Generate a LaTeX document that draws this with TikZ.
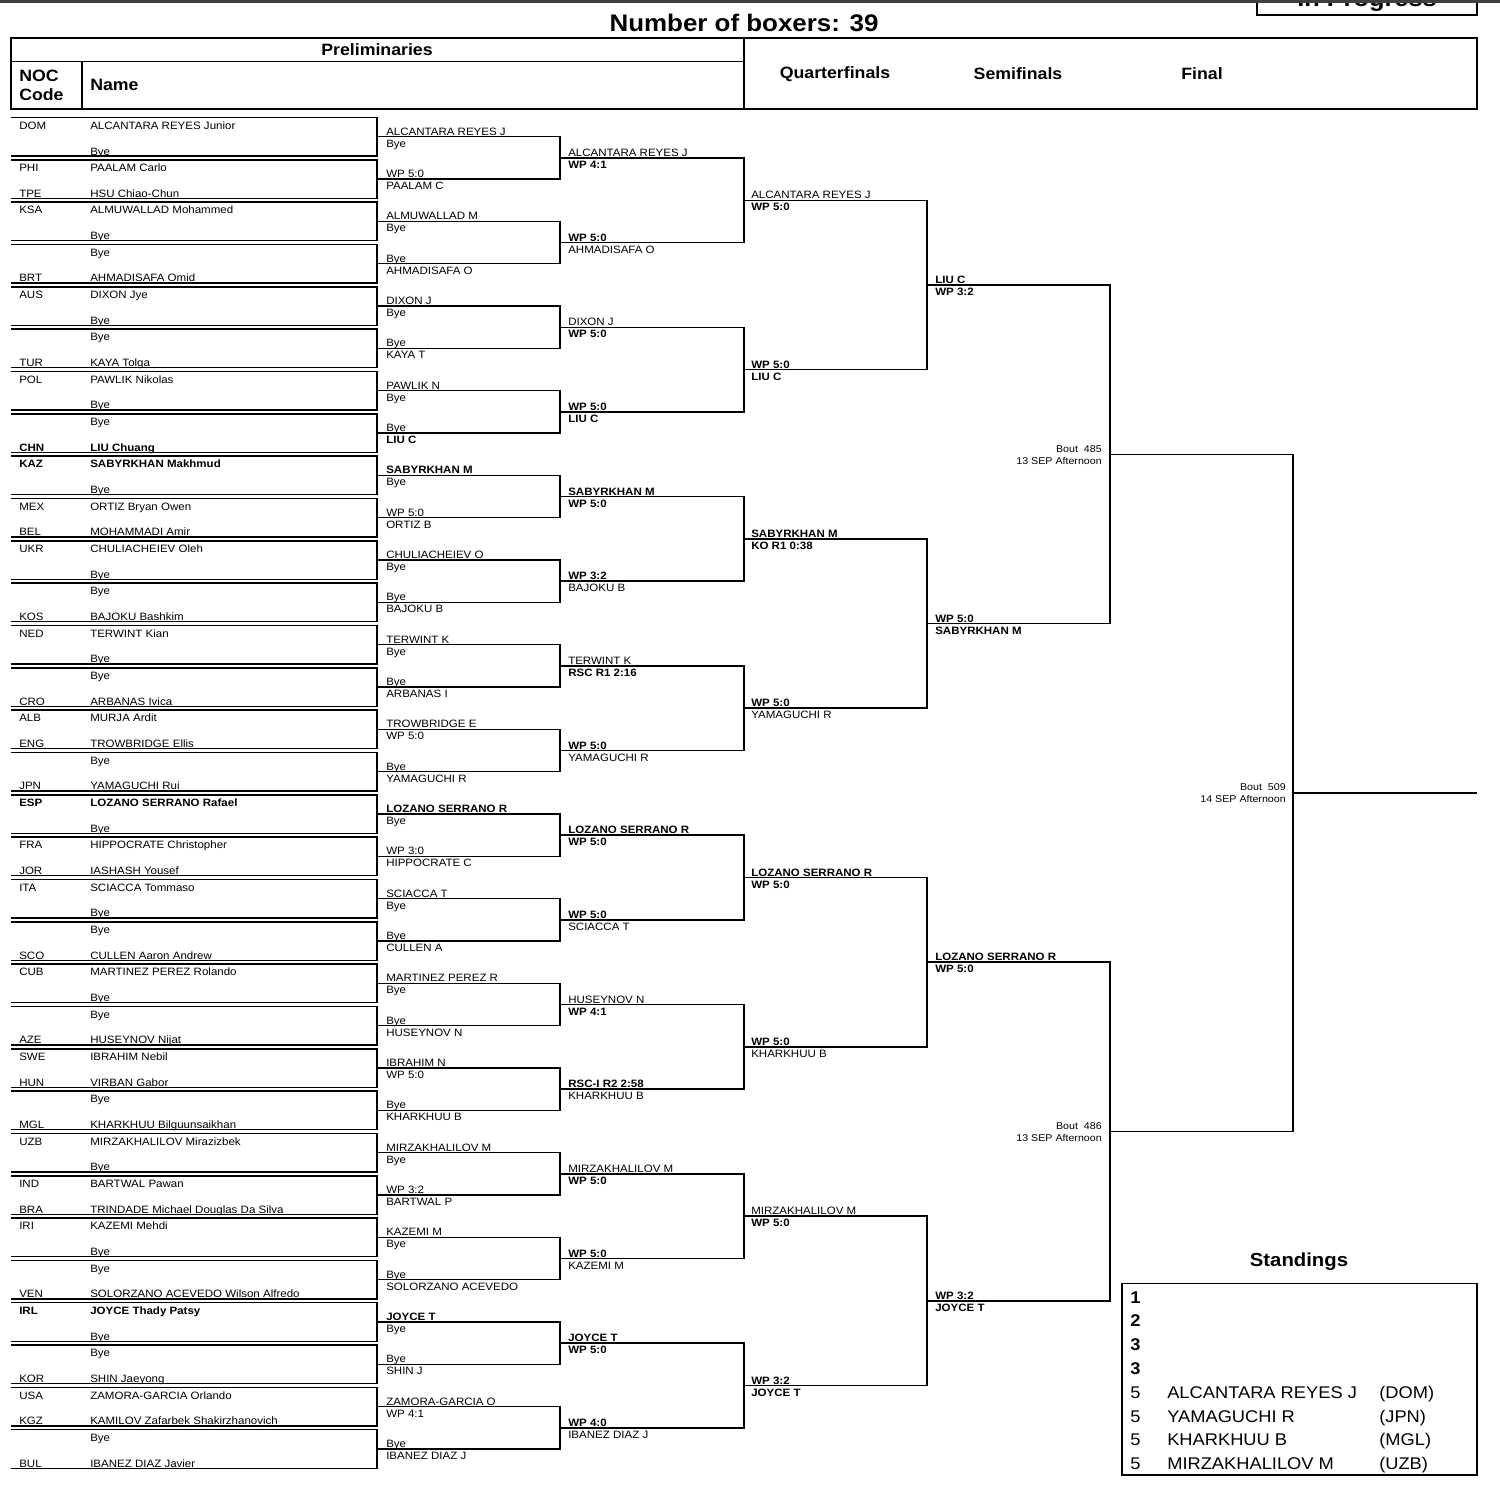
\documentclass[tikz,border=0pt]{standalone}
\usepackage{fontspec}
\setmainfont[FakeStretch=1.08]{Liberation Sans}
\usetikzlibrary{calc}
\begin{document}
\begin{tikzpicture}[x=0.75pt,y=-0.75pt,
  ln/.style={line width=1.1pt,line join=miter},
  sm/.style={font=\fontsize{8.0}{9}\selectfont,inner sep=0pt,anchor=base west},
  bt/.style={font=\fontsize{7.4}{8}\selectfont,inner sep=0pt,anchor=base east},
  hd/.style={font=\bfseries\fontsize{12.3}{14.25}\selectfont,inner sep=0pt},
  st/.style={font=\fontsize{12.7}{15}\selectfont,inner sep=0pt,anchor=base west}]
\useasboundingbox (0,0) rectangle (1500,1486);
\clip (0,0) rectangle (1500,1486);

% In Progress box (cut by the page edge, as in the reference)
\draw[ln] (1257,-20) -- (1257,15) -- (1477,15) -- (1477,-20);
\node[font=\bfseries\fontsize{17.6}{19}\selectfont,inner sep=0pt,anchor=base] (prog) at (1367,6.7) {In Progress};

% title
\node[font=\bfseries\fontsize{18}{20}\selectfont,inner sep=0pt] (title) at (744,22.5) {Number of boxers: 39};

% header table
\draw[ln] (11,38) rectangle (1477,109);
\draw[ln] (11,61.5) -- (744,61.5);
\draw[ln] (744,38) -- (744,109);
\draw[ln] (82,61.5) -- (82,109);
\node[hd] (prel) at (377,50) {Preliminaries};
\node[hd,anchor=west,align=left] (noc) at (19,85.5) {NOC\\Code};
\node[hd,anchor=west] (name) at (90,85) {Name};
\node[hd] (qf) at (835,74) {Quarterfinals};
\node[hd] (sf) at (1018,74) {Semifinals};
\node[hd] (fi) at (1202,74) {Final};

% first-round boxes
\foreach \i/\ca/\na/\cb/\nbx in {
0/DOM/ALCANTARA REYES Junior//Bye,
1/PHI/PAALAM Carlo/TPE/HSU Chiao-Chun,
2/KSA/ALMUWALLAD Mohammed//Bye,
3//Bye/BRT/AHMADISAFA Omid,
4/AUS/DIXON Jye//Bye,
5//Bye/TUR/KAYA Tolga,
6/POL/PAWLIK Nikolas//Bye,
7//Bye/\bfseries CHN/\bfseries LIU Chuang,
8/\bfseries KAZ/\bfseries SABYRKHAN Makhmud//Bye,
9/MEX/ORTIZ Bryan Owen/BEL/MOHAMMADI Amir,
10/UKR/CHULIACHEIEV Oleh//Bye,
11//Bye/KOS/BAJOKU Bashkim,
12/NED/TERWINT Kian//Bye,
13//Bye/CRO/ARBANAS Ivica,
14/ALB/MURJA Ardit/ENG/TROWBRIDGE Ellis,
15//Bye/JPN/YAMAGUCHI Rui,
16/\bfseries ESP/\bfseries LOZANO SERRANO Rafael//Bye,
17/FRA/HIPPOCRATE Christopher/JOR/IASHASH Yousef,
18/ITA/SCIACCA Tommaso//Bye,
19//Bye/SCO/CULLEN Aaron Andrew,
20/CUB/MARTINEZ PEREZ Rolando//Bye,
21//Bye/AZE/HUSEYNOV Nijat,
22/SWE/IBRAHIM Nebil/HUN/VIRBAN Gabor,
23//Bye/MGL/KHARKHUU Bilguunsaikhan,
24/UZB/MIRZAKHALILOV Mirazizbek//Bye,
25/IND/BARTWAL Pawan/BRA/TRINDADE Michael Douglas Da Silva,
26/IRI/KAZEMI Mehdi//Bye,
27//Bye/VEN/SOLORZANO ACEVEDO Wilson Alfredo,
28/\bfseries IRL/\bfseries JOYCE Thady Patsy//Bye,
29//Bye/KOR/SHIN Jaeyong,
30/USA/ZAMORA-GARCIA Orlando/KGZ/KAMILOV Zafarbek Shakirzhanovich,
31//Bye/BUL/IBANEZ DIAZ Javier}{
  \pgfmathsetmacro\ytop{117.5+42.33*\i}
  \pgfmathsetmacro\ybot{\ytop+38.5}
  \draw[ln] (11,\ytop) -- (377,\ytop) -- (377,\ybot) -- (11,\ybot);
  \node[sm] (ca\i) at (19,\ytop+11.8) {\ca};
  \node[sm] (na\i) at (90,\ytop+11.8) {\na};
  \node[sm] (cb\i) at (19,\ybot-1) {\cb};
  \node[sm] (nb\i) at (90,\ybot-1) {\nbx};
}

% bracket coordinates
\foreach \r in {1,...,6}{
  \pgfmathtruncatemacro\nlast{2^(6-\r)-1}
  \pgfmathsetmacro\stp{2^(\r-1)}
  \pgfmathsetmacro\xa{{377,560,744,927,1110,1293,1477}[\r-1]}
  \pgfmathsetmacro\xb{{377,560,744,927,1110,1293,1477}[\r]}
  \foreach \j in {0,...,\nlast}{
    \pgfmathsetmacro\yy{136.75+42.33*(\stp*\j+(\stp-1)/2)}
    \coordinate (a\r-\j) at (\xa,\yy);
    \coordinate (b\r-\j) at (\xb,\yy);
  }
}
% bracket connectors
\foreach \r in {1,...,5}{
  \pgfmathtruncatemacro\plast{2^(5-\r)-1}
  \foreach \k in {0,...,\plast}{
    \pgfmathtruncatemacro\ja{2*\k}
    \pgfmathtruncatemacro\jb{2*\k+1}
    \draw[ln] (a\r-\ja) -- (b\r-\ja) -- (b\r-\jb) -- (a\r-\jb);
  }
}
\draw[ln] (a6-0) -- (b6-0);

% round labels
\foreach \j/\lu/\ld in {0/ALCANTARA REYES J/Bye, 1/WP 5:0/PAALAM C, 2/ALMUWALLAD M/Bye, 3/Bye/AHMADISAFA O, 4/DIXON J/Bye, 5/Bye/KAYA T, 6/PAWLIK N/Bye, 7/Bye/\bfseries LIU C, 8/\bfseries SABYRKHAN M/Bye, 9/WP 5:0/ORTIZ B, 10/CHULIACHEIEV O/Bye, 11/Bye/BAJOKU B, 12/TERWINT K/Bye, 13/Bye/ARBANAS I, 14/TROWBRIDGE E/WP 5:0, 15/Bye/YAMAGUCHI R, 16/\bfseries LOZANO SERRANO R/Bye, 17/WP 3:0/HIPPOCRATE C, 18/SCIACCA T/Bye, 19/Bye/CULLEN A, 20/MARTINEZ PEREZ R/Bye, 21/Bye/HUSEYNOV N, 22/IBRAHIM N/WP 5:0, 23/Bye/KHARKHUU B, 24/MIRZAKHALILOV M/Bye, 25/WP 3:2/BARTWAL P, 26/KAZEMI M/Bye, 27/Bye/SOLORZANO ACEVEDO, 28/\bfseries JOYCE T/Bye, 29/Bye/SHIN J, 30/ZAMORA-GARCIA O/WP 4:1, 31/Bye/IBANEZ DIAZ J}{
  \node[sm] (u1-\j) at ($(a1-\j)+(9,-1.5)$) {\lu};
  \node[sm] (d1-\j) at ($(a1-\j)+(9,10.5)$) {\ld};
}
\foreach \j/\lu/\ld in {0/ALCANTARA REYES J/\bfseries WP 4:1, 1/\bfseries WP 5:0/AHMADISAFA O, 2/DIXON J/\bfseries WP 5:0, 3/\bfseries WP 5:0/\bfseries LIU C, 4/\bfseries SABYRKHAN M/\bfseries WP 5:0, 5/\bfseries WP 3:2/BAJOKU B, 6/TERWINT K/\bfseries RSC R1 2:16, 7/\bfseries WP 5:0/YAMAGUCHI R, 8/\bfseries LOZANO SERRANO R/\bfseries WP 5:0, 9/\bfseries WP 5:0/SCIACCA T, 10/HUSEYNOV N/\bfseries WP 4:1, 11/\bfseries RSC-I R2 2:58/KHARKHUU B, 12/MIRZAKHALILOV M/\bfseries WP 5:0, 13/\bfseries WP 5:0/KAZEMI M, 14/\bfseries JOYCE T/\bfseries WP 5:0, 15/\bfseries WP 4:0/IBANEZ DIAZ J}{
  \node[sm] (u2-\j) at ($(a2-\j)+(8,-1.5)$) {\lu};
  \node[sm] (d2-\j) at ($(a2-\j)+(8,10.5)$) {\ld};
}
\foreach \j/\lu/\ld in {0/ALCANTARA REYES J/\bfseries WP 5:0, 1/\bfseries WP 5:0/\bfseries LIU C, 2/\bfseries SABYRKHAN M/\bfseries KO R1 0:38, 3/\bfseries WP 5:0/YAMAGUCHI R, 4/\bfseries LOZANO SERRANO R/\bfseries WP 5:0, 5/\bfseries WP 5:0/KHARKHUU B, 6/MIRZAKHALILOV M/\bfseries WP 5:0, 7/\bfseries WP 3:2/\bfseries JOYCE T}{
  \node[sm] (u3-\j) at ($(a3-\j)+(7,-1.5)$) {\lu};
  \node[sm] (d3-\j) at ($(a3-\j)+(7,10.5)$) {\ld};
}
\foreach \j/\lu/\ld in {0/\bfseries LIU C/\bfseries WP 3:2, 1/\bfseries WP 5:0/\bfseries SABYRKHAN M, 2/\bfseries LOZANO SERRANO R/\bfseries WP 5:0, 3/\bfseries WP 3:2/\bfseries JOYCE T}{
  \node[sm] (u4-\j) at ($(a4-\j)+(8,-1.5)$) {\lu};
  \node[sm] (d4-\j) at ($(a4-\j)+(8,10.5)$) {\ld};
}

% bout labels
\node[bt] (bout485) at ($(a5-0)+(-8,-2)$) {Bout~~485};
\node[bt] (date485) at ($(a5-0)+(-8,10)$) {13 SEP Afternoon};
\node[bt] (bout486) at ($(a5-1)+(-8,-2)$) {Bout~~486};
\node[bt] (date486) at ($(a5-1)+(-8,10)$) {13 SEP Afternoon};
\node[bt] (bout509) at ($(a6-0)+(-7,-2)$) {Bout~~509};
\node[bt] (date509) at ($(a6-0)+(-7,10)$) {14 SEP Afternoon};

% standings
\node[font=\bfseries\fontsize{14.1}{16}\selectfont,inner sep=0pt] (stand) at (1299,1261.5) {Standings};
\draw[line width=1.3pt] (1122,1283.5) rectangle (1477,1475);
\foreach \k/\num/\nm/\noc in {0/\bfseries 1//, 1/\bfseries 2//, 2/\bfseries 3//, 3/\bfseries 3//, 4/5/ALCANTARA REYES J/{(DOM)}, 5/5/YAMAGUCHI R/{(JPN)}, 6/5/KHARKHUU B/{(MGL)}, 7/5/MIRZAKHALILOV M/{(UZB)}}{
  \node[st] (sn\k) at (1130,1303+23.8*\k) {\num};
  \node[st] (sm\k) at (1167,1303+23.8*\k) {\nm};
  \node[st] (sc\k) at (1379,1303+23.8*\k) {\noc};
}

% top edge band
\fill[black!75] (0,0) rectangle (1500,2.6);
\end{tikzpicture}
\end{document}
